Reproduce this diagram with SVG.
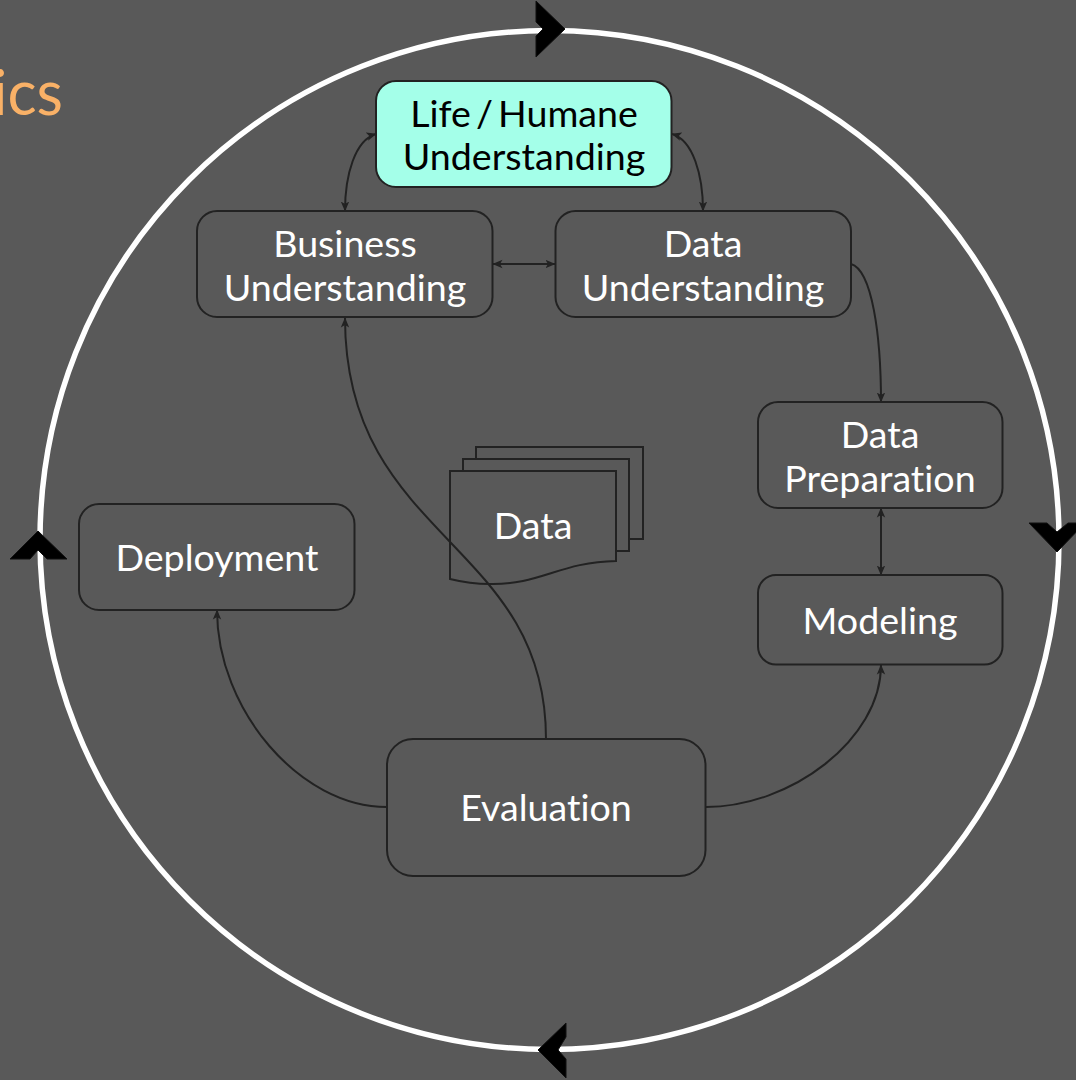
<svg xmlns="http://www.w3.org/2000/svg" width="1076" height="1080" viewBox="0 0 1076 1080">
<style>
.n{fill:#595959;stroke:#222;stroke-width:2}
.t{font-family:Lato,"Liberation Sans",sans-serif;font-size:37.6px;fill:#fff;text-anchor:middle;font-variant-ligatures:none}
.c{fill:none;stroke:#222;stroke-width:2}
.h{fill:#000;stroke:#111;stroke-width:1;stroke-linejoin:round}
</style>
<defs>
<marker id="a" viewBox="0 0 10 10" refX="9.5" refY="5" markerWidth="10" markerHeight="10" markerUnits="userSpaceOnUse" orient="auto-start-reverse"><path d="M0 0.8L10 5L0 9.2L2.5 5Z" fill="#222"/></marker>
</defs>
<rect width="1076" height="1080" fill="#595959"/>
<text x="63" y="115" style="font-family:Lato,'Liberation Sans',sans-serif;font-size:61px;fill:#f9b167;text-anchor:end">ics</text>
<circle id="ring" cx="549.5" cy="540" r="509.5" fill="none" stroke="#fff" stroke-width="5.5"/>
<g id="ring-arrows">
<path class="h" d="M565 29L536 1V22L543 29L536 36V57Z"/>
<path class="h" d="M1057 552L1029 523H1047L1057 532L1068 523H1085Z"/>
<path class="h" d="M538 1050L566 1023V1037L558 1050L566 1059V1078Z"/>
<path class="h" d="M38 531L10 559H30L38 550L47 559H67Z"/>
</g>
<g id="connectors">
<path class="c" marker-start="url(#a)" marker-end="url(#a)" d="M376 134C355 140 345 175 345 211"/>
<path class="c" marker-start="url(#a)" marker-end="url(#a)" d="M672 134C693 140 703 175 703 211"/>
<path class="c" marker-start="url(#a)" marker-end="url(#a)" d="M493 264H555"/>
<path class="c" marker-end="url(#a)" d="M851 264C872 270 881 335 881 402"/>
<path class="c" marker-start="url(#a)" marker-end="url(#a)" d="M881 508V575"/>
<path class="c" marker-end="url(#a)" d="M706 807C790 807 881 740 881 665"/>
<path class="c" marker-end="url(#a)" d="M387 807C300 807 217 710 217 610"/>
<path class="c" marker-end="url(#a)" d="M546 739C546 540 345 540 345 318"/>
</g>
<g id="life"><rect class="n" style="fill:#a4ffe9" x="376" y="81" width="295.500" height="106" rx="20"/><text class="t" style="fill:#000;word-spacing:-4.500px" x="524" y="127">Life / Humane</text><text class="t" style="fill:#000" x="524" y="170">Understanding</text></g>
<g id="business"><rect class="n" x="197" y="211" width="295.500" height="106" rx="20"/><text class="t" x="345" y="257">Business</text><text class="t" x="345" y="301">Understanding</text></g>
<g id="data-understanding"><rect class="n" x="555.500" y="211" width="295.500" height="106" rx="20"/><text class="t" x="703" y="257">Data</text><text class="t" x="703" y="301">Understanding</text></g>
<g id="data-preparation"><rect class="n" x="758" y="402" width="244.500" height="106" rx="20"/><text class="t" x="880" y="448">Data</text><text class="t" x="880" y="492">Preparation</text></g>
<g id="modeling"><rect class="n" x="758" y="575" width="244.500" height="89.500" rx="18"/><text class="t" x="880" y="634">Modeling</text></g>
<g id="evaluation"><rect class="n" x="387" y="739" width="318.500" height="137" rx="26"/><text class="t" x="546" y="821">Evaluation</text></g>
<g id="deployment"><rect class="n" x="79" y="504" width="275.500" height="106" rx="20"/><text class="t" x="217" y="571">Deployment</text></g>
<g id="data">
<path class="n" style="fill:none" d="M476 460V447H643V539H629"/>
<path class="n" style="fill:none" d="M463 471V459H629V551H616"/>
<path class="n" style="fill:none" d="M450 471H616V561C560 562 540 585 490 584C475 584 462 582 450 579Z"/>
<text class="t" x="533" y="539">Data</text>
</g>
</svg>
